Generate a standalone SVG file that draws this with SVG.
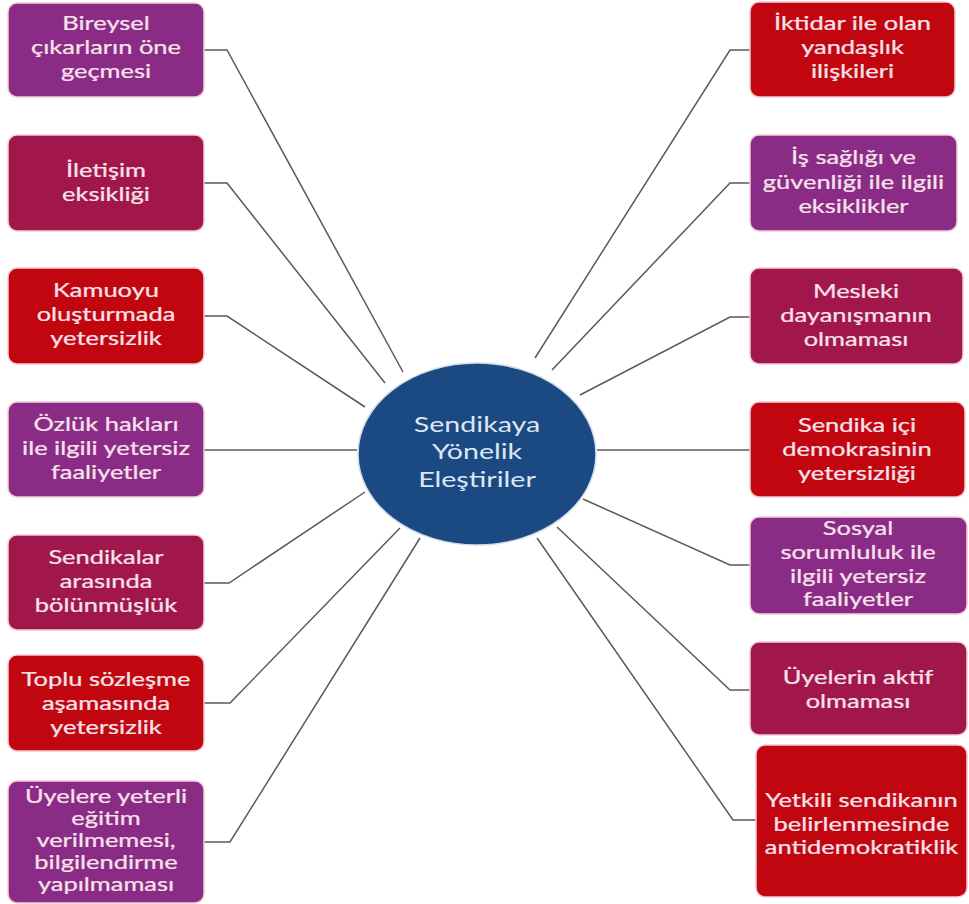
<svg xmlns="http://www.w3.org/2000/svg" width="969" height="904" viewBox="0 0 969 904">
<style>
.bx{stroke:#f4cdd6;stroke-width:1.5}
.p{fill:#8a2c86}.c{fill:#a1174b}.r{fill:#c2060f}
.t{font-family:Lato,"Open Sans","Liberation Sans",sans-serif;font-size:19px;fill:#f7e1ea;text-anchor:middle;stroke:#f7e1ea;stroke-width:0.25}
.ct{font-family:Lato,"Open Sans","Liberation Sans",sans-serif;font-size:22px;fill:#dde7f3;text-anchor:middle}
.ln{fill:none;stroke:#5a5a5a;stroke-width:1.5}
</style>
<rect width="969" height="904" fill="#ffffff"/>
<g id="connectors">
<polyline class="ln" points="204,50 227,50 403,372"/>
<polyline class="ln" points="204,183 227,183 385,383"/>
<polyline class="ln" points="204,316 227,316 365,407"/>
<polyline class="ln" points="204,450 357,450"/>
<polyline class="ln" points="204,583 229,583 365,492"/>
<polyline class="ln" points="204,703 230,703 400,528"/>
<polyline class="ln" points="204,842 230,842 420,538"/>
<polyline class="ln" points="750,50 730,50 535,358"/>
<polyline class="ln" points="750,183 730,183 552,370"/>
<polyline class="ln" points="750,317 730,317 580,395"/>
<polyline class="ln" points="750,450 597,450"/>
<polyline class="ln" points="750,565 730,565 583,499"/>
<polyline class="ln" points="750,690 730,690 557,527"/>
<polyline class="ln" points="756,820 733,820 537,538"/>
</g>
<g id="center">
<ellipse cx="477" cy="454" rx="119" ry="91" fill="#1b4a82" stroke="#cfdbe9" stroke-width="1.5"/>
<g transform="translate(477,0) scale(1.3,1)">
<text class="ct" x="0" y="432">Sendikaya</text>
<text class="ct" x="0" y="459">Yönelik</text>
<text class="ct" x="0" y="487">Eleştiriler</text>
</g>
</g>
<g id="n-l1">
<rect class="bx p" x="8" y="3" width="196" height="94" rx="9"/>
<g transform="translate(106,0) scale(1.34,1)">
<text class="t" x="0" y="30">Bireysel</text>
<text class="t" x="0" y="54">çıkarların öne</text>
<text class="t" x="0" y="78">geçmesi</text>
</g>
</g>
<g id="n-l2">
<rect class="bx c" x="8" y="135" width="196" height="96" rx="9"/>
<g transform="translate(106,0) scale(1.34,1)">
<text class="t" x="0" y="177">İletişim</text>
<text class="t" x="0" y="201">eksikliği</text>
</g>
</g>
<g id="n-l3">
<rect class="bx r" x="8" y="268" width="196" height="96" rx="9"/>
<g transform="translate(106,0) scale(1.34,1)">
<text class="t" x="0" y="297">Kamuoyu</text>
<text class="t" x="0" y="321">oluşturmada</text>
<text class="t" x="0" y="345">yetersizlik</text>
</g>
</g>
<g id="n-l4">
<rect class="bx p" x="8" y="402" width="196" height="95" rx="9"/>
<g transform="translate(106,0) scale(1.34,1)">
<text class="t" x="0" y="431">Özlük hakları</text>
<text class="t" x="0" y="455">ile ilgili yetersiz</text>
<text class="t" x="0" y="479">faaliyetler</text>
</g>
</g>
<g id="n-l5">
<rect class="bx c" x="8" y="535" width="196" height="95" rx="9"/>
<g transform="translate(106,0) scale(1.34,1)">
<text class="t" x="0" y="564">Sendikalar</text>
<text class="t" x="0" y="588">arasında</text>
<text class="t" x="0" y="612">bölünmüşlük</text>
</g>
</g>
<g id="n-l6">
<rect class="bx r" x="8" y="655" width="196" height="96" rx="9"/>
<g transform="translate(106,0) scale(1.34,1)">
<text class="t" x="0" y="686">Toplu sözleşme</text>
<text class="t" x="0" y="710">aşamasında</text>
<text class="t" x="0" y="734">yetersizlik</text>
</g>
</g>
<g id="n-l7">
<rect class="bx p" x="8" y="781" width="196" height="122" rx="9"/>
<g transform="translate(106,0) scale(1.34,1)">
<text class="t" x="0" y="803">Üyelere yeterli</text>
<text class="t" x="0" y="825">eğitim</text>
<text class="t" x="0" y="847">verilmemesi,</text>
<text class="t" x="0" y="869">bilgilendirme</text>
<text class="t" x="0" y="891">yapılmaması</text>
</g>
</g>
<g id="n-r1">
<rect class="bx r" x="750" y="2" width="205" height="95" rx="9"/>
<g transform="translate(852.5,0) scale(1.34,1)">
<text class="t" x="0" y="30">İktidar ile olan</text>
<text class="t" x="0" y="54">yandaşlık</text>
<text class="t" x="0" y="78">ilişkileri</text>
</g>
</g>
<g id="n-r2">
<rect class="bx p" x="750" y="135" width="207" height="96" rx="9"/>
<g transform="translate(853.5,0) scale(1.34,1)">
<text class="t" x="0" y="164">İş sağlığı ve</text>
<text class="t" x="0" y="189">güvenliği ile ilgili</text>
<text class="t" x="0" y="213">eksiklikler</text>
</g>
</g>
<g id="n-r3">
<rect class="bx c" x="750" y="268" width="213" height="96" rx="9"/>
<g transform="translate(856,0) scale(1.34,1)">
<text class="t" x="0" y="298">Mesleki</text>
<text class="t" x="0" y="322">dayanışmanın</text>
<text class="t" x="0" y="346">olmaması</text>
</g>
</g>
<g id="n-r4">
<rect class="bx r" x="750" y="402" width="215" height="95" rx="9"/>
<g transform="translate(857,0) scale(1.34,1)">
<text class="t" x="0" y="432">Sendika içi</text>
<text class="t" x="0" y="456">demokrasinin</text>
<text class="t" x="0" y="480">yetersizliği</text>
</g>
</g>
<g id="n-r5">
<rect class="bx p" x="750" y="517" width="217" height="97" rx="9"/>
<g transform="translate(858,0) scale(1.34,1)">
<text class="t" x="0" y="535">Sosyal</text>
<text class="t" x="0" y="559">sorumluluk ile</text>
<text class="t" x="0" y="583">ilgili yetersiz</text>
<text class="t" x="0" y="606">faaliyetler</text>
</g>
</g>
<g id="n-r6">
<rect class="bx c" x="750" y="642" width="217" height="93" rx="9"/>
<g transform="translate(858,0) scale(1.34,1)">
<text class="t" x="0" y="684">Üyelerin aktif</text>
<text class="t" x="0" y="708">olmaması</text>
</g>
</g>
<g id="n-r7">
<rect class="bx r" x="756" y="745" width="211" height="152" rx="9"/>
<g transform="translate(861.5,0) scale(1.34,1)">
<text class="t" x="0" y="807">Yetkili sendikanın</text>
<text class="t" x="0" y="831">belirlenmesinde</text>
<text class="t" x="0" y="854">antidemokratiklik</text>
</g>
</g>
</svg>
